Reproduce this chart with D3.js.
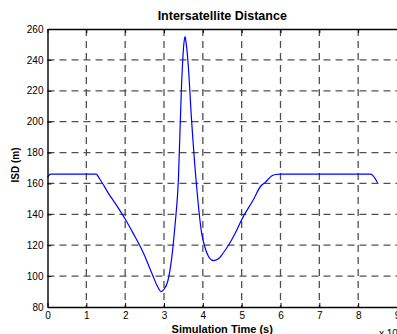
<!DOCTYPE html>
<html>
<head>
<meta charset="utf-8">
<script src="https://cdn.jsdelivr.net/npm/d3@7"></script>
<style>
  html, body { margin: 0; padding: 0; background: #fff; }
  svg { display: block; font-family: Arial, "Liberation Sans", Helvetica, sans-serif; }
</style>
</head>
<body>
<svg id="chart" width="397" height="334"></svg>
<script>
// Simulation time, in units of 10^4 s
const timeValues = [0, 0.08, 1.25, 1.35, 1.57, 1.8, 2.0, 2.2, 2.47, 2.7, 2.85, 2.92, 3.0,
  3.1, 3.2, 3.28, 3.37, 3.45, 3.51, 3.54, 3.57, 3.62, 3.71, 3.84, 3.97, 4.05, 4.15,
  4.27, 4.4, 4.52, 4.68, 4.85, 5.0, 5.29, 5.5, 5.6, 5.77, 5.88, 6.0, 8.32, 8.5];
// Intersatellite distance, m
const isdValues = [164, 166, 166, 162.7, 153.6, 145, 137, 128, 115, 101, 92.5, 90, 91.5,
  97, 112, 132, 162, 222.7, 250, 255, 251, 238, 201, 158, 127.7, 119, 112.5,
  110, 111.2, 114.8, 120.8, 128.5, 136.5, 149, 158.5, 160.5, 164.8, 165.8, 166, 166, 160.5];

const xTicks = [0, 1, 2, 3, 4, 5, 6, 7, 8, 9];
const yTicks = [80, 100, 120, 140, 160, 180, 200, 220, 240, 260];

const titleText = "Intersatellite Distance";
const xLabelText = "Simulation Time (s)";
const yLabelText = "ISD (m)";

const svg = d3.select("#chart");
const plotLeft = 47.5, plotRight = 397, plotTop = 29, plotBottom = 307;

const x = d3.scaleLinear().domain([0, 9]).range([plotLeft, plotRight]);
const y = d3.scaleLinear().domain([80, 260]).range([plotBottom, plotTop]);

const gridColor = "#505050";

// dashed grid
const grid = svg.append("g");
grid.selectAll("line.v").data(xTicks.filter(t => t > 0 && t < 9)).join("line")
  .attr("class", "v")
  .attr("x1", d => x(d)).attr("x2", d => x(d))
  .attr("y1", plotTop).attr("y2", plotBottom)
  .attr("stroke", gridColor).attr("stroke-width", 1.3)
  .attr("stroke-dasharray", "7,5");
grid.selectAll("line.h").data(yTicks.filter(t => t > 80 && t < 260)).join("line")
  .attr("class", "h")
  .attr("x1", plotLeft).attr("x2", plotRight)
  .attr("y1", d => y(d)).attr("y2", d => y(d))
  .attr("stroke", gridColor).attr("stroke-width", 1.3)
  .attr("stroke-dasharray", "7,5");

// data curve
const pts = timeValues.map((t, i) => [t, isdValues[i]]);
const line = d3.line().x(d => x(d[0])).y(d => y(d[1])).curve(d3.curveMonotoneX);
svg.append("path").attr("d", line(pts))
  .attr("fill", "none").attr("stroke", "#0000ff").attr("stroke-width", 1.2);

// axes with inward ticks
const xAxis = svg.append("g").attr("transform", `translate(0,${plotBottom})`)
  .call(d3.axisBottom(x).tickValues(xTicks).tickSizeInner(-4).tickSizeOuter(0).tickPadding(5)
    .tickFormat(d3.format("d")));
const xAxisTop = svg.append("g").attr("transform", `translate(0,${plotTop})`)
  .call(d3.axisTop(x).tickValues(xTicks).tickSizeInner(-4).tickSizeOuter(0).tickFormat(""));
const yAxis = svg.append("g").attr("transform", `translate(${plotLeft},0)`)
  .call(d3.axisLeft(y).tickValues(yTicks).tickSizeInner(-4).tickSizeOuter(0).tickPadding(4)
    .tickFormat(d3.format("d")));

[xAxis, xAxisTop, yAxis].forEach(g => {
  g.select(".domain").attr("stroke", "#000").attr("stroke-width", 1.4);
  g.selectAll(".tick line").attr("stroke", "#000").attr("stroke-width", 1);
  g.selectAll(".tick text").attr("font-size", 10).attr("fill", "#000")
    .attr("font-family", "Arial, 'Liberation Sans', sans-serif");
});

// title and labels
svg.append("text").attr("x", (plotLeft + plotRight) / 2).attr("y", 20)
  .attr("text-anchor", "middle").attr("font-weight", "bold").attr("font-size", 12.5)
  .text(titleText);
svg.append("text").attr("x", (plotLeft + plotRight) / 2).attr("y", 333)
  .attr("text-anchor", "middle").attr("font-weight", "bold").attr("font-size", 11)
  .text(xLabelText);
svg.append("text").attr("transform", `translate(19,${(plotTop + plotBottom) / 2 - 3}) rotate(-90)`)
  .attr("text-anchor", "middle").attr("font-weight", "bold").attr("font-size", 10)
  .text(yLabelText);

// exponent marker for the time axis
const expo = svg.append("text").attr("x", 379).attr("y", 337)
  .attr("font-size", 10).attr("fill", "#000");
expo.append("tspan").text("x 10");
expo.append("tspan").attr("dy", -5).attr("font-size", 7).text("4");
</script>
</body>
</html>
